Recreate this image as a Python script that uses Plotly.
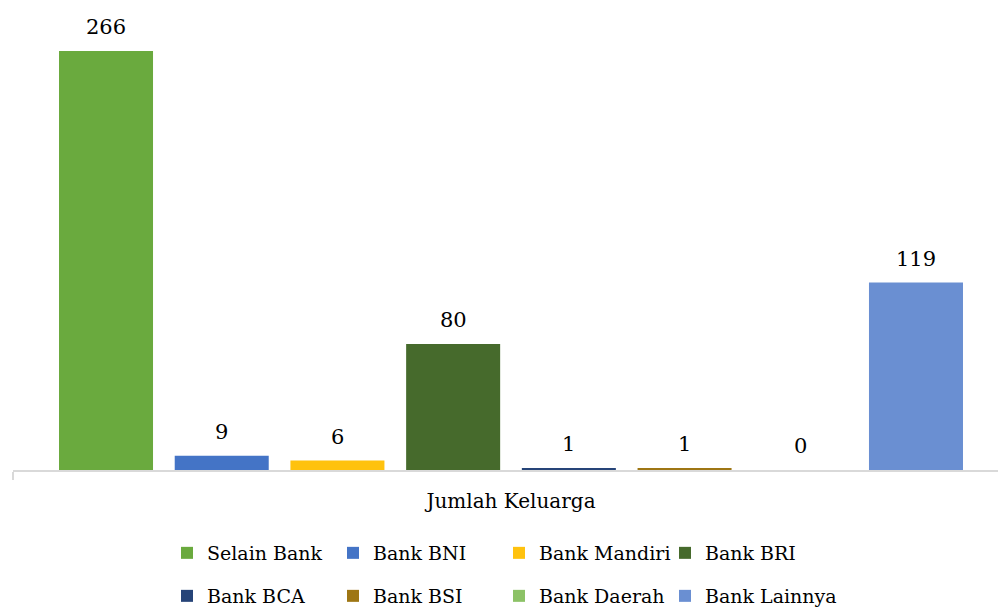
import plotly.graph_objects as go

# Jumlah keluarga per tempat menabung
category = ["Jumlah Keluarga"]
series_names = ["Selain Bank", "Bank BNI", "Bank Mandiri", "Bank BRI",
                "Bank BCA", "Bank BSI", "Bank Daerah", "Bank Lainnya"]
series_values = [266, 9, 6, 80, 1, 1, 0, 119]
series_colors = ["#6aaa3e", "#4474c6", "#ffc20e", "#466a2c",
                 "#264478", "#9e7614", "#8cc266", "#6a8fd2"]

FONT = "DejaVu Serif"
BARGAP = 0.0706
BARGROUPGAP = 0.1876

fig = go.Figure()
n = len(series_names)
for i, (name, val, col) in enumerate(zip(series_names, series_values, series_colors)):
    fig.add_trace(go.Bar(
        x=category, y=[val], name=name,
        marker=dict(color=col, line=dict(width=0)),
        legend="legend" if i < 4 else "legend2",
        # the last entry of each row gets extra room so its text is not clipped
        legendwidth=160 if i in (3, 7) else None,
        hoverinfo="skip",
    ))

# value labels above each bar, centred on the bar's slot inside the group
slot = (1 - BARGAP) / n
for i, val in enumerate(series_values):
    fig.add_annotation(
        x=(i - (n - 1) / 2) * slot, y=val, xref="x", yref="y",
        text=str(val), showarrow=False, yanchor="middle", yshift=24,
        font=dict(family=FONT, size=21, color="#000000"),
    )

legend_common = dict(
    orientation="h", xref="container", yref="container",
    xanchor="left", yanchor="middle",
    font=dict(family=FONT, size=19, color="#000000"),
    entrywidth=121, entrywidthmode="pixels",
    itemwidth=30, bgcolor="rgba(0,0,0,0)",
    traceorder="normal",
)

fig.update_layout(
    width=998, height=609,
    margin=dict(l=13, r=0, t=29, b=139),
    paper_bgcolor="#ffffff", plot_bgcolor="#ffffff",
    barmode="group", bargap=BARGAP, bargroupgap=BARGROUPGAP,
    font=dict(family=FONT, color="#000000"),
    showlegend=True,
    legend=dict(legend_common, x=167 / 998, y=(609 - 553) / 609),
    legend2=dict(legend_common, x=167 / 998, y=(609 - 596) / 609),
    xaxis=dict(
        type="category", range=[-0.5, -0.5 + 985 / 996],
        showline=True, linecolor="#d9d9d9", linewidth=1.5,
        ticks="outside", tickson="boundaries", ticklen=8, tickcolor="#d9d9d9",
        tickwidth=1.5,
        tickfont=dict(family=FONT, size=20, color="#000000"),
        ticklabelstandoff=12, showgrid=False, zeroline=False,
    ),
    yaxis=dict(range=[0, 280], visible=False, showgrid=False, zeroline=False),
)

fig.write_html("out.html")
